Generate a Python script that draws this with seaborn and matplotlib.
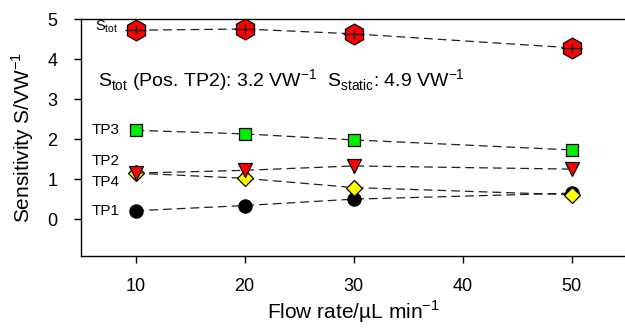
import matplotlib
matplotlib.use("Agg")
import matplotlib.pyplot as plt
import seaborn as sns
import pandas as pd

flow = [10, 20, 30, 50]
s_tot = [4.72, 4.75, 4.63, 4.28]
tp3 = [2.22, 2.13, 1.98, 1.73]
tp2 = [1.15, 1.22, 1.33, 1.25]
tp4 = [1.15, 1.02, 0.79, 0.61]
tp1 = [0.21, 0.34, 0.50, 0.65]
s_tot_err = [0.12, 0.12, 0.12, 0.12]

sns.set_style("ticks")
plt.rcParams['font.family'] = ['Liberation Sans', 'DejaVu Sans']
plt.rcParams['mathtext.fontset'] = 'custom'
plt.rcParams['mathtext.rm'] = 'Liberation Sans'
for k in ['text.color', 'axes.labelcolor', 'xtick.color', 'ytick.color', 'axes.edgecolor']:
    plt.rcParams[k] = 'black'

fig = plt.figure(figsize=(6.25, 3.32), dpi=100)
ax = fig.add_axes([81/625, 76/332, 545/625, 237/332])

series = [
    ("TP1", tp1, 'o', 'black', 9.5),
    ("TP4", tp4, 'D', '#ffff00', 8),
    ("TP2", tp2, 'v', '#ff0000', 10),
    ("TP3", tp3, 's', '#00ee00', 8.5),
]
for name, vals, mk, col, ms in series:
    df = pd.DataFrame({"x": flow, "y": vals})
    sns.lineplot(data=df, x="x", y="y", ax=ax, color='#202020', lw=0.9,
                 linestyle=(0, (7, 4)), marker=mk, markersize=ms,
                 markerfacecolor=col, markeredgecolor='black', markeredgewidth=0.9,
                 zorder=3)

df = pd.DataFrame({"x": flow, "y": s_tot})
sns.lineplot(data=df, x="x", y="y", ax=ax, color='#202020', lw=0.9,
             linestyle=(0, (7, 4)), marker='h', markersize=15,
             markerfacecolor='#ff0000', markeredgecolor='black', markeredgewidth=0.9,
             zorder=3)
ax.errorbar(flow, s_tot, yerr=s_tot_err, xerr=[1.0]*4, fmt='none',
            ecolor='black', elinewidth=0.9, capsize=0, zorder=4)

ax.set_xlim(5, 55)
ax.set_ylim(-0.92, 5)
ax.set_xticks([10, 20, 30, 40, 50])
ax.set_yticks([0, 1, 2, 3, 4, 5])
ax.tick_params(axis='both', labelsize=13, direction='out', length=5, width=1, color='black',
               labelcolor='black')
ax.tick_params(axis='x', pad=11)
ax.tick_params(axis='y', pad=12)
ax.set_xlabel(r"Flow rate/µL min$^{-1}$", fontsize=15, labelpad=2)
ax.set_ylabel(r"Sensitivity S/VW$^{-1}$", fontsize=15, labelpad=8)
ax.spines['right'].set_visible(False)
for s in ['left', 'bottom', 'top']:
    ax.spines[s].set_linewidth(1.0)
    ax.spines[s].set_color('black')

ax.text(6.3, 4.8, r"S$_{\mathrm{tot}}$", fontsize=10.5, va='center')
ax.text(6.0, 2.23, "TP3", fontsize=11, va='center')
ax.text(6.0, 1.45, "TP2", fontsize=11, va='center')
ax.text(6.0, 0.93, "TP4", fontsize=11, va='center')
ax.text(6.0, 0.21, "TP1", fontsize=11, va='center')
ax.text(6.6, 3.45, r"S$_{\mathrm{tot}}$ (Pos. TP2): 3.2 VW$^{-1}$  S$_{\mathrm{static}}$: 4.9 VW$^{-1}$",
        fontsize=14, va='center')

fig.savefig("out.png", dpi=100)
